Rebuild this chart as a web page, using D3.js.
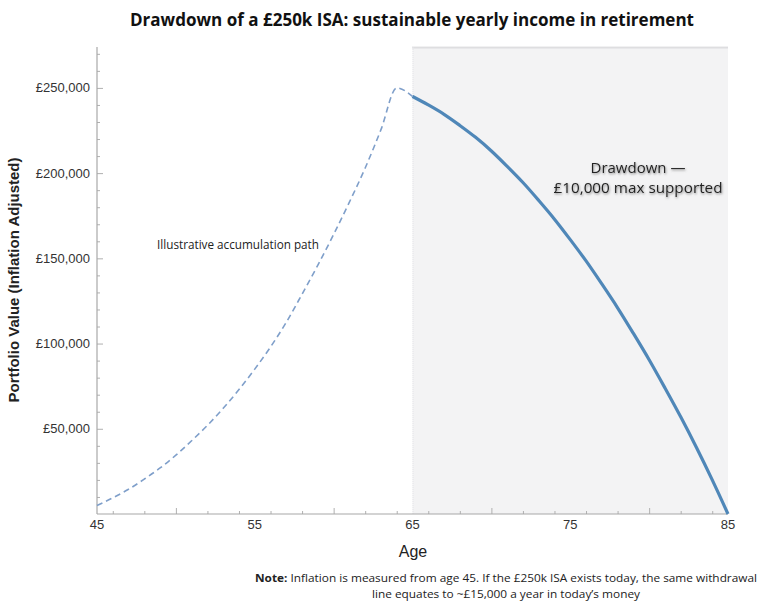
<!DOCTYPE html>
<html>
<head>
<meta charset="utf-8">
<script src="https://cdn.jsdelivr.net/npm/d3@7"></script>
<style>
  body { margin: 0; background: #fff; }
  svg { font-family: "Liberation Sans", Arial, sans-serif; }
</style>
</head>
<body>
<div id="chart"></div>
<script>
// accumulation path (illustrative), ages 45-65
const accAges = [45, 46, 47, 48, 49, 50, 51, 52, 53, 54, 55, 56, 57, 58, 59, 60, 61, 62, 63, 64, 65];
const accValues = [5000, 9500, 14500, 20500, 27000, 34500, 43000, 52000, 62000, 73000, 85000,
  98000, 112500, 129000, 146000, 164000, 183000, 203000, 225500, 250000, 245000];

// drawdown path, ages 65-85
const drawAges = [65, 66, 67, 68, 69, 70, 71, 72, 73, 74, 75, 76, 77, 78, 79, 80, 81, 82, 83, 84, 85];
const drawValues = [245000, 240000, 234500, 228000, 221000, 213000, 204000, 194500, 184000, 173000, 161000,
  148500, 135000, 121000, 106000, 90500, 74000, 57000, 39000, 20000, 0];

const xTickValues = [45, 55, 65, 75, 85];
const yTickValues = [50000, 100000, 150000, 200000, 250000];

const W = 768, H = 607;

const svg = d3.select('#chart')
  .append('svg')
  .attr('width', W)
  .attr('height', H);

const defs = svg.append('defs');
const glow = defs.append('filter').attr('id', 'glow')
  .attr('x', '-10%').attr('y', '-30%').attr('width', '120%').attr('height', '160%');
glow.append('feDropShadow')
  .attr('dx', 0.6).attr('dy', 1.2).attr('stdDeviation', 1.2)
  .attr('flood-color', '#666').attr('flood-opacity', 0.8);

const x = d3.scaleLinear().domain([45, 85]).range([97, 728]);
const y = d3.scaleLinear().domain([0, 274000]).range([514, 47]);

// shaded retirement region
svg.append('rect')
  .attr('x', x(65))
  .attr('y', y(274000))
  .attr('width', x(85) - x(65))
  .attr('height', y(0) - y(274000))
  .attr('fill', '#f3f3f4');

svg.append('line')
  .attr('x1', x(65)).attr('x2', x(85))
  .attr('y1', y(274000) + 0.5).attr('y2', y(274000) + 0.5)
  .attr('stroke', '#c8c8cc')
  .attr('stroke-width', 2)
  .attr('stroke-dasharray', '1,1');

svg.append('line')
  .attr('x1', x(65) + 0.5).attr('x2', x(65) + 0.5)
  .attr('y1', y(274000)).attr('y2', y(0))
  .attr('stroke', '#e4e4e8')
  .attr('stroke-dasharray', '1,1');

// axes (frame with inward ticks)
const yAxis = svg.append('g')
  .attr('transform', `translate(${x(45)},0)`)
  .call(d3.axisRight(y).tickValues(d3.range(10000, 274000, 10000)).tickSize(3).tickFormat(''));
yAxis.selectAll('.tick line').attr('stroke', '#b0b0b0');
yAxis.selectAll('.tick').filter(d => d % 50000 === 0).select('line').attr('x2', 6);
yAxis.select('.domain').remove();

const xAxis = svg.append('g')
  .attr('transform', `translate(0,${y(0)})`)
  .call(d3.axisTop(x).tickValues(d3.range(46, 85, 2)).tickSize(3).tickFormat(''));
xAxis.selectAll('.tick line').attr('stroke', '#b0b0b0');
xAxis.selectAll('.tick').filter(d => d % 10 === 0).select('line').attr('y2', -6);
xAxis.select('.domain').remove();

svg.append('line')
  .attr('x1', x(45)).attr('x2', x(45))
  .attr('y1', y(274000)).attr('y2', y(0))
  .attr('stroke', '#a8a8a8').attr('stroke-width', 1.2);
svg.append('line')
  .attr('x1', x(45)).attr('x2', x(85))
  .attr('y1', y(0)).attr('y2', y(0))
  .attr('stroke', '#a8a8a8').attr('stroke-width', 1.2);

// tick labels
svg.append('g').selectAll('text')
  .data(yTickValues)
  .join('text')
  .attr('x', 90)
  .attr('y', d => y(d))
  .attr('dy', '0.35em')
  .attr('text-anchor', 'end')
  .attr('font-size', 13)
  .attr('fill', '#333')
  .text(d => '£' + d3.format(',')(d));

svg.append('g').selectAll('text')
  .data(xTickValues)
  .join('text')
  .attr('x', d => x(d))
  .attr('y', 529)
  .attr('text-anchor', 'middle')
  .attr('font-size', 13)
  .attr('fill', '#333')
  .text(d => d);

// lines
const accData = accAges.map((a, i) => ({ age: a, value: accValues[i] }));
const drawData = drawAges.map((a, i) => ({ age: a, value: drawValues[i] }));

const line = d3.line()
  .x(d => x(d.age))
  .y(d => y(d.value))
  .curve(d3.curveMonotoneX);

svg.append('path')
  .datum(accData)
  .attr('d', line)
  .attr('fill', 'none')
  .attr('stroke', '#7f9fca')
  .attr('stroke-width', 1.6)
  .attr('stroke-dasharray', '6,4');

svg.append('path')
  .datum(drawData)
  .attr('d', line)
  .attr('fill', 'none')
  .attr('stroke', '#4f87b8')
  .attr('stroke-width', 3.2);

// titles
svg.append('text')
  .attr('x', 412)
  .attr('y', 26)
  .attr('text-anchor', 'middle')
  .attr('font-size', 18)
  .attr('font-weight', 'bold')
  .style('font-family', '"Open Sans", sans-serif')
  .attr('textLength', 564)
  .attr('lengthAdjust', 'spacingAndGlyphs')
  .attr('fill', '#111')
  .text('Drawdown of a £250k ISA: sustainable yearly income in retirement');

svg.append('text')
  .attr('transform', 'translate(19,280) rotate(-90)')
  .attr('text-anchor', 'middle')
  .attr('font-size', 15)
  .attr('font-weight', 'bold')
  .attr('fill', '#222')
  .attr('textLength', 245)
  .attr('lengthAdjust', 'spacingAndGlyphs')
  .text('Portfolio Value (Inflation Adjusted)');

svg.append('text')
  .attr('x', 413)
  .attr('y', 557)
  .attr('text-anchor', 'middle')
  .attr('font-size', 16)
  .attr('fill', '#222')
  .text('Age');

// annotations
svg.append('text')
  .attr('x', 238)
  .attr('y', 249)
  .attr('text-anchor', 'middle')
  .attr('font-size', 12)
  .style('font-family', '"Open Sans", sans-serif')
  .attr('textLength', 162)
  .attr('lengthAdjust', 'spacingAndGlyphs')
  .attr('fill', '#222')
  .text('Illustrative accumulation path');

const dd = svg.append('g')
  .attr('filter', 'url(#glow)')
  .attr('font-size', 15)
  .attr('fill', '#222')
  .attr('text-anchor', 'middle');
dd.append('text').attr('x', 638).attr('y', 173)
  .style('font-family', '"Open Sans", sans-serif')
  .attr('textLength', 95).attr('lengthAdjust', 'spacingAndGlyphs')
  .text('Drawdown —');
dd.append('text').attr('x', 638).attr('y', 193)
  .style('font-family', '"Open Sans", sans-serif')
  .attr('textLength', 169).attr('lengthAdjust', 'spacingAndGlyphs')
  .text('£10,000 max supported');

// note
const note = svg.append('g')
  .attr('font-size', 11)
  .attr('fill', '#222')
  .attr('text-anchor', 'middle');
const n1 = note.append('text').attr('x', 506).attr('y', 582)
  .style('font-family', '"Open Sans", sans-serif')
  .attr('textLength', 502).attr('lengthAdjust', 'spacingAndGlyphs');
n1.append('tspan').attr('font-weight', 'bold').text('Note:');
n1.append('tspan').text(' Inflation is measured from age 45. If the £250k ISA exists today, the same withdrawal');
note.append('text').attr('x', 506).attr('y', 598)
  .style('font-family', '"Open Sans", sans-serif')
  .attr('textLength', 268).attr('lengthAdjust', 'spacingAndGlyphs')
  .text('line equates to ~£15,000 a year in today’s money');
</script>
</body>
</html>
